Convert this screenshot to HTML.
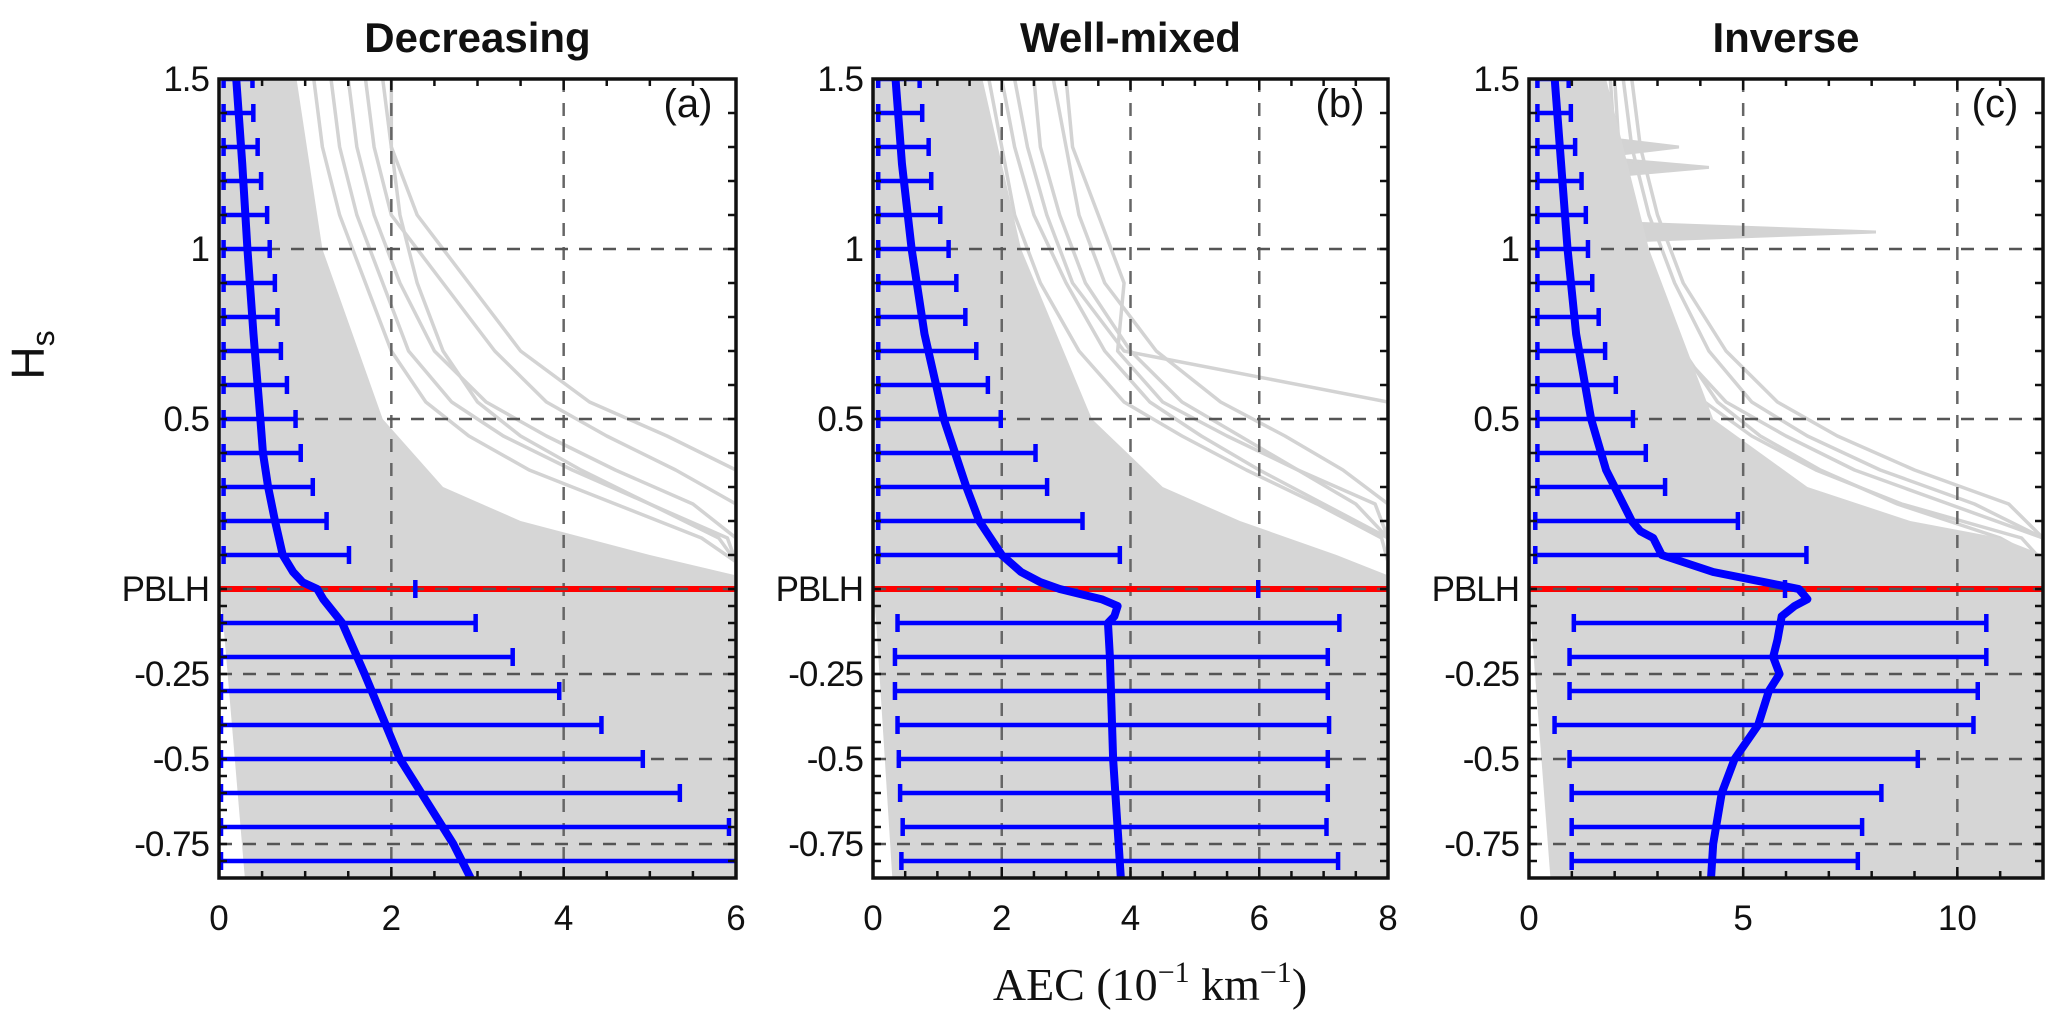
<!DOCTYPE html>
<html><head><meta charset="utf-8"><style>
html,body{margin:0;padding:0;background:#fff}
svg{display:block}
text{font-family:"Liberation Sans",Arial,sans-serif;fill:#111}
</style></head><body>
<svg id="chart" width="2067" height="1025" viewBox="0 0 2067 1025" xmlns="http://www.w3.org/2000/svg">
<text x="44" y="355" font-size="46" text-anchor="middle" transform="rotate(-90 44 355)">H<tspan font-size="32" dy="10">s</tspan></text>
<text x="1150" y="1000" font-size="46" text-anchor="middle" style="font-family:'Liberation Serif',serif">AEC (10<tspan font-size="30" dy="-18">−1</tspan><tspan dy="18"> km</tspan><tspan font-size="30" dy="-18">−1</tspan><tspan dy="18">)</tspan></text>
</svg>
<script>
// ---- shared data ----
const yMajorTicks = [1.5, 1, 0.5, 0, -0.25, -0.5, -0.75];
const yTickLabels = ["1.5", "1", "0.5", "PBLH", "-0.25", "-0.5", "-0.75"];
const rowHeightsAbove = [1.5,1.4,1.3,1.2,1.1,1.0,0.9,0.8,0.7,0.6,0.5,0.4,0.3,0.2,0.1];
const rowHeightsBelow = [-0.1,-0.2,-0.3,-0.4,-0.5,-0.6,-0.7,-0.8];
const panelTitles = ["Decreasing", "Well-mixed", "Inverse"];
const panelLetters = ["(a)", "(b)", "(c)"];
const xMaxes = [6, 8, 12];
const xTickSets = [[0,2,4,6],[0,2,4,6,8],[0,5,10]];
const xMinorSteps = [0.5, 0.5, 1];

// Panel (a)
const errLoA_above = [0.03,0.03,0.03,0.03,0.03,0.03,0.03,0.03,0.03,0.03,0.03,0.03,0.03,0.03,0.03];
const errHiA_above = [0.40,0.41,0.46,0.50,0.57,0.60,0.66,0.69,0.73,0.80,0.90,0.96,1.10,1.26,1.52];
const errLoA_below = [0.0,0.0,0.0,0.0,0.0,0.0,0.0,0.0];
const errHiA_below = [2.99,3.42,3.96,4.45,4.93,5.36,5.93,6.2];
const pblhErrA = [0.0, 2.29];
const meanHA = [1.5,1.25,1.0,0.75,0.5,0.4,0.3,0.2,0.1,0.05,0.02,0,-0.03,-0.1,-0.25,-0.5,-0.75,-0.85];
const meanXA = [0.20,0.27,0.33,0.40,0.48,0.51,0.57,0.65,0.74,0.86,0.97,1.14,1.21,1.43,1.69,2.10,2.72,2.92];
const envHA = [1.5,1.0,0.5,0.3,0.2,0.1,0.04];
const envXA = [0.9,1.2,1.9,2.6,3.5,5.0,6];

// Panel (b)
const errLoB_above = [0.05,0.05,0.05,0.05,0.05,0.05,0.05,0.05,0.05,0.05,0.05,0.05,0.05,0.05,0.05];
const errHiB_above = [0.74,0.78,0.88,0.92,1.06,1.19,1.31,1.45,1.62,1.80,2.00,2.54,2.72,3.27,3.85];
const errLoB_below = [0.35,0.31,0.31,0.35,0.37,0.39,0.43,0.41];
const errHiB_below = [7.26,7.08,7.08,7.10,7.08,7.08,7.06,7.24];
const pblhErrB = [0.2, 6.0];
const meanHB = [1.5,1.25,1.0,0.75,0.5,0.3,0.2,0.1,0.05,0.02,0,-0.03,-0.05,-0.08,-0.1,-0.2,-0.5,-0.85];
const meanXB = [0.35,0.45,0.60,0.80,1.10,1.45,1.65,2.00,2.30,2.60,2.90,3.55,3.80,3.75,3.65,3.68,3.73,3.85];
const envHB = [1.5,1.0,0.5,0.3,0.2,0.1,0.04];
const envXB = [1.7,2.3,3.4,4.5,5.7,7.2,8];

// Panel (c)
const errLoC_above = [0.15,0.15,0.15,0.15,0.15,0.15,0.15,0.15,0.15,0.15,0.15,0.15,0.15,0.1,0.1];
const errHiC_above = [0.95,1.0,1.1,1.25,1.35,1.4,1.5,1.65,1.8,2.05,2.45,2.75,3.2,4.9,6.5];
const errLoC_below = [1.0,0.9,0.9,0.55,0.9,0.95,0.95,0.95];
const errHiC_below = [10.7,10.7,10.5,10.4,9.1,8.25,7.8,7.7];
const pblhErrC = [0.1, 6.0];
const meanHC = [1.5,1.25,1.0,0.75,0.5,0.35,0.25,0.2,0.17,0.15,0.1,0.05,0.02,0,-0.03,-0.05,-0.08,-0.15,-0.2,-0.25,-0.3,-0.4,-0.5,-0.6,-0.75,-0.85];
const meanXC = [0.6,0.75,0.9,1.1,1.45,1.8,2.2,2.4,2.6,2.9,3.1,4.3,5.5,6.3,6.5,6.2,5.9,5.8,5.7,5.85,5.6,5.35,4.8,4.5,4.3,4.25];
const envHC = [1.5,1.0,0.5,0.3,0.2,0.15,0.1];
const envXC = [1.8,2.8,4.3,6.5,8.9,11,12];

// stray gray profiles (values at heights in strayH)
const strayH = [1.5,1.3,1.1,0.9,0.7,0.55,0.45,0.35,0.25,0.15,0.08,0.0];
const strayA = [
  [2.0,2.0,2.1,2.3,2.6,3.0,3.5,4.2,5.0,5.8,6,6],
  [1.5,1.6,1.8,2.1,2.5,3.1,3.8,4.6,5.5,6,6,6],
  [1.3,1.4,1.6,1.9,2.2,2.7,3.3,4.1,5.0,5.9,6,6],
  [1.7,1.8,2.0,2.6,3.2,3.8,4.5,5.3,6,6,6,6],
  [1.1,1.2,1.4,1.7,2.0,2.4,2.9,3.6,4.6,5.6,6,6],
  [1.9,2.0,2.3,2.9,3.5,4.3,5.2,6,6,6,6,6]];
const strayB = [
  [2.5,2.6,2.9,3.3,4.0,4.8,5.7,6.6,7.5,8,8,8],
  [2.2,2.4,2.7,3.1,3.9,8,8,8,8,8,8,8],
  [2.0,2.2,2.5,3.0,3.6,4.3,5.1,6.0,7.0,8,8,8],
  [2.8,3.0,3.2,3.6,4.4,5.4,6.4,7.3,8,8,8,8],
  [1.8,2.0,2.2,2.6,3.2,3.9,4.8,5.8,6.9,7.9,8,8],
  [3.0,3.1,3.5,3.9,3.8,4.5,5.5,6.6,7.8,8,8,8]];
const strayC = [
  [2.0,2.1,2.5,3.0,3.6,4.4,5.4,6.8,8.6,11,12,12],
  [1.6,1.8,2.2,2.7,3.3,4.1,5.2,6.7,8.7,11.5,12,12],
  [2.2,2.4,2.8,3.4,4.2,5.2,6.5,8.2,10.4,12,12,12],
  [1.9,2.0,2.4,2.9,3.5,4.6,6.0,7.6,9.8,12,12,12],
  [2.4,2.6,3.0,3.6,4.6,5.8,7.2,9.0,11.2,12,12,12]];
// spike profiles in panel (c): [height, peak value]
const spikeH = [1.05, 1.24, 1.30];
const spikeX = [8.1, 4.2, 3.5];

const panels = [
  {x0:219, x1:736, eHiA:errHiA_above, eLoA:errLoA_above, eLoB:errLoA_below, eHiB:errHiA_below, pb:pblhErrA, mh:meanHA, mx:meanXA, eh:envHA, ex:envXA, st:strayA, leftLo:0.3},
  {x0:873, x1:1388, eHiA:errHiB_above, eLoA:errLoB_above, eLoB:errLoB_below, eHiB:errHiB_below, pb:pblhErrB, mh:meanHB, mx:meanXB, eh:envHB, ex:envXB, st:strayB, leftLo:0.3},
  {x0:1529, x1:2043, eHiA:errHiC_above, eLoA:errLoC_above, eLoB:errLoC_below, eHiB:errHiC_below, pb:pblhErrC, mh:meanHC, mx:meanXC, eh:envHC, ex:envXC, st:strayC, leftLo:0.5}
];

const Y0 = 589, PX = 340, YT = Y0 - 1.5*PX, YB = Y0 + 0.85*PX;
const yS = v => Y0 - v*PX;
const NS = "http://www.w3.org/2000/svg";
const svg = document.getElementById('chart');
function mk(tag, attrs, parent){
  const e = document.createElementNS(NS, tag);
  for (const k in attrs) e.setAttribute(k, attrs[k]);
  (parent||svg).appendChild(e); return e;
}

panels.forEach((p, i) => {
  const xm = xMaxes[i];
  const xS = v => p.x0 + (Math.min(v, xm*1.02)/xm)*(p.x1 - p.x0);
  const g = mk('g', {});
  
  
  const cid = 'clip' + i;
  const cp = mk('clipPath', {id: cid}, g);
  mk('rect', {x:p.x0, y:YT, width:p.x1-p.x0, height:YB-YT}, cp);
  const plot = mk('g', {'clip-path': 'url(#' + cid + ')'}, g);

  // stray profiles
  p.st.forEach(arr => {
    const sl = mk('polyline', {points: strayH.map((h,k)=>xS(arr[k])+','+yS(h)).join(' '), fill:'none', stroke:'#d3d3d3', 'stroke-width':3.5, 'stroke-linejoin':'round'}, plot);
    
    
  });
  if (i === 2) {
    spikeH.forEach((h,k) => {
      const sp = mk('polyline', {points: xS(1.5)+','+yS(h+0.03)+' '+xS(spikeX[k])+','+yS(h)+' '+xS(1.5)+','+yS(h-0.03), fill:'#d3d3d3', stroke:'#d3d3d3', 'stroke-width':3}, plot);
      
      
    });
  }
  // gray envelope above PBLH
  let d = 'M' + xS(0) + ',' + yS(1.5);
  p.eh.forEach((h, k) => { d += ' L' + xS(p.ex[k]) + ',' + yS(h); });
  d += ' L' + xS(xm) + ',' + yS(0) + ' L' + xS(0) + ',' + yS(0) + 'Z';
  const env = mk('path', {d: d, fill: '#d6d6d6'}, plot);
  
  
  // gray below PBLH
  const bd = 'M' + xS(0) + ',' + yS(0) + ' L' + xS(xm*1.05) + ',' + yS(0) + ' L' + xS(xm*1.05) + ',' + YB + ' L' + xS(p.leftLo) + ',' + YB + ' L' + xS(0.05) + ',' + yS(-0.1) + 'Z';
  const benv = mk('path', {d: bd, fill: '#d6d6d6'}, plot);
  
  

  // grid
  xTickSets[i].filter(v => v > 0 && v < xm).forEach(v => {
    const gl = mk('line', {x1:xS(v), x2:xS(v), y1:YT, y2:YB, stroke:'#666', 'stroke-width':2.5, 'stroke-dasharray':'13 11'}, plot);
    
    
  });
  // red PBLH line
  const red = mk('line', {x1:p.x0, x2:p.x1, y1:Y0, y2:Y0, stroke:'#ff0000', 'stroke-width':6}, plot);
  
  
  yMajorTicks.forEach(v => {
    if (v === 1.5) return;
    const gl = mk('line', {x1:p.x0, x2:p.x1, y1:yS(v), y2:yS(v), stroke:'#555', 'stroke-width':2.5, 'stroke-dasharray':'13 11'}, plot);
    
    
  });

  // error bars
  function bar(lo, hi, h){
    const eg = mk('g', {stroke:'#0000ff', 'stroke-width':4.5}, plot);
    
    
    const y = yS(h);
    mk('line', {x1:xS(lo), x2:xS(hi), y1:y, y2:y}, eg);
    mk('line', {x1:xS(lo)+2, x2:xS(lo)+2, y1:y-9, y2:y+9}, eg);
    mk('line', {x1:xS(hi)-1, x2:xS(hi)-1, y1:y-9, y2:y+9}, eg);
  }
  rowHeightsAbove.forEach((h,k) => bar(p.eLoA[k], p.eHiA[k], h));
  rowHeightsBelow.forEach((h,k) => bar(p.eLoB[k], p.eHiB[k], h));
  const pbg = mk('line', {x1:xS(p.pb[1])-1, x2:xS(p.pb[1])-1, y1:Y0-9, y2:Y0+9, stroke:'#0000ff', 'stroke-width':4.5}, plot);
  
  

  // mean profile
  const mean = mk('polyline', {points: p.mh.map((h,k)=>xS(p.mx[k])+','+yS(h)).join(' '), fill:'none', stroke:'#0000ff', 'stroke-width':8, 'stroke-linejoin':'round'}, plot);
  
  

  // axes box
  const box = mk('rect', {x:p.x0, y:YT, width:p.x1-p.x0, height:YB-YT, fill:'none', stroke:'#111', 'stroke-width':3.5}, g);
  
  
  for (let v = 0; v <= xm + 1e-9; v += xMinorSteps[i]) {
    const major = xTickSets[i].indexOf(v) >= 0;
    const L = major ? 11 : 7;
    mk('line', {x1:xS(v), x2:xS(v), y1:YB, y2:YB-L, stroke:'#111', 'stroke-width':2.5}, g);
    mk('line', {x1:xS(v), x2:xS(v), y1:YT, y2:YT+L, stroke:'#111', 'stroke-width':2.5}, g);
  }
  xTickSets[i].forEach(v => {
    const t = mk('text', {x:xS(v), y:930, 'font-size':35, 'text-anchor':'middle'}, g);
    t.textContent = String(v);
    
    
  });
  for (let k = 0; k <= 15; k++) {
    const v = 1.5 - k*0.1;
    mk('line', {x1:p.x0, x2:p.x0+8, y1:yS(v), y2:yS(v), stroke:'#111', 'stroke-width':2.5}, g);
    mk('line', {x1:p.x1, x2:p.x1-8, y1:yS(v), y2:yS(v), stroke:'#111', 'stroke-width':2.5}, g);
  }
  for (let k = 1; k <= 17; k++) {
    const v = -k*0.05;
    mk('line', {x1:p.x0, x2:p.x0+8, y1:yS(v), y2:yS(v), stroke:'#111', 'stroke-width':2.5}, g);
    mk('line', {x1:p.x1, x2:p.x1-8, y1:yS(v), y2:yS(v), stroke:'#111', 'stroke-width':2.5}, g);
  }
  yMajorTicks.forEach((v,k) => {
    const t = mk('text', {x:p.x0-10, y:yS(v)+12, 'font-size':35, 'text-anchor':'end', 'letter-spacing':'-1'}, g);
    t.textContent = yTickLabels[k];
    
    
  });
  const title = mk('text', {x:(p.x0+p.x1)/2, y:52, 'font-size':42, 'font-weight':'bold', 'text-anchor':'middle'}, g);
  title.textContent = panelTitles[i];
  
  
  const let_ = mk('text', {x:p.x1-48, y:117, 'font-size':40, 'text-anchor':'middle'}, g);
  let_.textContent = panelLetters[i];
  
  
});
</script>
</body></html>
